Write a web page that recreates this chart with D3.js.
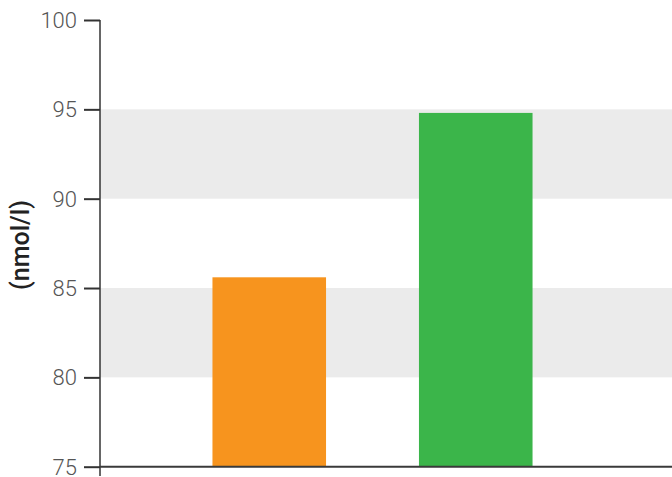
<!DOCTYPE html>
<html>
<head>
<meta charset="utf-8">
<script src="https://cdn.jsdelivr.net/npm/d3@7"></script>
<style>
  body { margin: 0; background: #fff; }
  svg { display: block; }
  .tick text { font-family: Roboto, sans-serif; font-weight: 300; fill: #555; }
</style>
</head>
<body>
<div id="chart"></div>
<script>
// data
var categories = ["Group 1", "Group 2"];
var values = [85.6, 94.8];
var barColors = ["#f7941e", "#3bb54a"];
var yTicks = [75, 80, 85, 90, 95, 100];
var shadedBands = [[80, 85], [90, 95]];

var width = 672,
    height = 477,
    margin = { top: 20, right: 0, bottom: 10, left: 100 };

var svg = d3.select("#chart").append("svg")
    .attr("width", width)
    .attr("height", height);

var y = d3.scaleLinear()
    .domain([75, 100])
    .range([466.7, margin.top]);

var x = d3.scaleBand()
    .domain(categories)
    .range([166, 579])
    .paddingInner(0.45)
    .paddingOuter(0.225);

// grey stripes behind the bars
svg.append("g").selectAll("rect")
    .data(shadedBands)
    .enter().append("rect")
    .attr("x", margin.left)
    .attr("width", width - margin.left)
    .attr("y", function (d) { return y(d[1]); })
    .attr("height", function (d) { return y(d[0]) - y(d[1]); })
    .attr("fill", "#ebebeb");

svg.append("g").selectAll("rect")
    .data(values)
    .enter().append("rect")
    .attr("x", function (d, i) { return x(categories[i]); })
    .attr("width", x.bandwidth())
    .attr("y", function (d) { return y(d); })
    .attr("height", function (d) { return y(75) - y(d); })
    .attr("fill", function (d, i) { return barColors[i]; });

// y axis
var yAxis = svg.append("g")
    .attr("transform", "translate(" + margin.left + ",0)")
    .call(d3.axisLeft(y).tickValues(yTicks).tickSize(16).tickPadding(7));

yAxis.select(".domain").remove();
yAxis.selectAll(".tick line")
    .attr("stroke", "#333")
    .attr("stroke-width", 2);
yAxis.selectAll(".tick text")
    .style("font-size", "22px")
    .attr("dy", "0.34em");

svg.append("line")
    .attr("x1", margin.left).attr("x2", margin.left)
    .attr("y1", y(100)).attr("y2", 476)
    .attr("stroke", "#333")
    .attr("stroke-width", 1.5);

// baseline
svg.append("line")
    .attr("x1", margin.left).attr("x2", width)
    .attr("y1", y(75)).attr("y2", y(75))
    .attr("stroke", "#3a3a3a")
    .attr("stroke-width", 2);

// axis title
svg.append("text")
    .attr("transform", "translate(29,245) rotate(-90)")
    .attr("text-anchor", "middle")
    .style("font-family", "Roboto, sans-serif")
    .style("font-weight", 500)
    .style("font-size", "25px")
    .style("fill", "#222")
    .text("(nmol/l)");
</script>
</body>
</html>
